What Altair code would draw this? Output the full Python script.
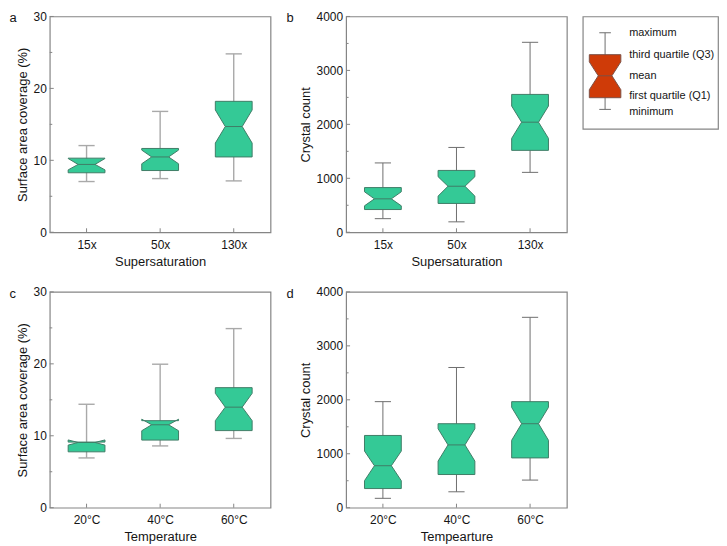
import json
import altair as alt
import pandas as pd

# ---------------- data ----------------
ss_cats = ["15x", "50x", "130x"]
temp_cats = ["20°C", "40°C", "60°C"]

# panel a: surface area coverage (%) vs supersaturation
a_min = [7.05, 7.46, 7.14]
a_q1 = [8.27, 8.58, 10.47]
a_mean = [9.43, 10.47, 14.7]
a_q3 = [10.3, 11.65, 18.2]
a_max = [12.05, 16.8, 24.8]
a_nlo = [8.67, 9.52, 12.4]
a_nhi = [10.25, 11.42, 17.0]

# panel b: crystal count vs supersaturation
b_min = [252, 193, 1110]
b_q1 = [421, 534, 1518]
b_mean = [619, 853, 2040]
b_q3 = [828, 1146, 2555]
b_max = [1285, 1572, 3521]
b_nlo = [490, 670, 1740]
b_nhi = [750, 1030, 2340]

# panel c: surface area coverage (%) vs temperature
c_min = [6.92, 8.59, 9.63]
c_q1 = [7.77, 9.4, 10.72]
c_mean = [9.07, 11.53, 13.98]
c_q3 = [9.12, 12.1, 16.69]
c_max = [14.38, 19.95, 24.9]
c_nlo = [8.7, 10.7, 12.1]
c_nhi = [9.42, 12.3, 15.9]

# panel d: crystal count vs temperature
d_min = [174, 295, 512]
d_q1 = [355, 615, 923]
d_mean = [778, 1164, 1557]
d_q3 = [1339, 1557, 1966]
d_max = [1966, 2599, 3529]
d_nlo = [500, 864, 1250]
d_nhi = [1050, 1464, 1860]

pct_ticks = [0, 10, 20, 30]
pct_minor = [5, 15, 25]
cnt_ticks = [0, 1000, 2000, 3000, 4000]
cnt_minor = [500, 1500, 2500, 3500]

legend_labels = ["maximum", "third quartile (Q3)", "mean", "first quartile (Q1)", "minimum"]
# schematic legend box (legend units, 0-10 scale)
legend_stats = dict(mn=1.73, q1=2.77, nlo=3.48, med=4.72, nhi=5.96, q3=6.6, mx=8.55)
legend_label_y = [8.55, 6.6, 4.72, 2.95, 1.53]

# ---------------- style ----------------
FONT = "Liberation Sans"
GREEN = "#34c996"
EDGE = "#3f7d67"
RED = "#cf3b08"
RED_EDGE = "#7d5045"
FRAME = "#858585"
TEXT = "#151515"
W, H = 222, 217
HALF = 0.25
INDENT = 0.135
CAP = 0.11


def polygon(c, half, indent, q1, nlo, med, nhi, q3, g):
    l, r = c - half, c + half
    pts = [(l, q1), (l, nlo), (l + indent, med), (l, nhi), (l, q3),
           (r, q3), (r, nhi), (r - indent, med), (r, nlo), (r, q1), (l, q1)]
    return [{"g": g, "k": k, "x": x, "y": y} for k, (x, y) in enumerate(pts)]


def panel(cats, mn, q1, med, q3, mx, nlo, nhi, ymax, major, minor,
          ytitle, xtitle, letter, letter_dx, wcol, wwidth):
    rows, poly = [], []
    for i in range(len(cats)):
        c = i + 1
        rows.append({"pos": c, "mn": mn[i], "mx": mx[i], "med": med[i],
                     "capl": c - CAP, "capr": c + CAP,
                     "medl": c - HALF + INDENT, "medr": c + HALF - INDENT})
        poly += polygon(c, HALF, INDENT, q1[i], nlo[i], med[i], nhi[i], q3[i], i)
    summ = pd.DataFrame(rows)
    polydf = pd.DataFrame(poly)

    xscale = alt.Scale(domain=[0.5, len(cats) + 0.5], nice=False, zero=False)
    yscale = alt.Scale(domain=[0, ymax], nice=False)
    xaxis = alt.Axis(values=list(range(1, len(cats) + 1)),
                     labelExpr=json.dumps(cats, ensure_ascii=False) + "[datum.value - 1]",
                     title=xtitle, grid=False, domain=False, ticks=False,
                     labelPadding=7, titlePadding=5)
    yaxis = alt.Axis(values=major, format="d", title=ytitle, grid=False, domain=False,
                     ticks=False, labelPadding=3.5, titlePadding=4)

    whisk = alt.Chart(summ).mark_rule(color=wcol, strokeWidth=wwidth).encode(
        x=alt.X("pos:Q", scale=xscale, axis=xaxis),
        y=alt.Y("mn:Q", scale=yscale, axis=yaxis),
        y2="mx:Q")
    cap_lo = alt.Chart(summ).mark_rule(color=wcol, strokeWidth=wwidth).encode(
        x="capl:Q", x2="capr:Q", y="mn:Q")
    cap_hi = alt.Chart(summ).mark_rule(color=wcol, strokeWidth=wwidth).encode(
        x="capl:Q", x2="capr:Q", y="mx:Q")
    boxes = alt.Chart(polydf).mark_line(fill=GREEN, stroke=EDGE, strokeWidth=1,
                                        strokeJoin="miter").encode(
        x="x:Q", y="y:Q", order="k:Q", detail="g:N")
    medline = alt.Chart(summ).mark_rule(color=EDGE, strokeWidth=1).encode(
        x="medl:Q", x2="medr:Q", y="med:Q")
    ymaj = alt.Chart(pd.DataFrame({"v": major})).mark_rule(color=FRAME).encode(
        y="v:Q", x=alt.value(0), x2=alt.value(4))
    ymin = alt.Chart(pd.DataFrame({"v": minor})).mark_rule(color=FRAME).encode(
        y="v:Q", x=alt.value(0), x2=alt.value(2.5))
    xt = alt.Chart(summ).mark_rule(color=FRAME).encode(
        x="pos:Q", y=alt.value(H), y2=alt.value(H - 4))
    lab = alt.Chart(pd.DataFrame({"t": [letter]})).mark_text(
        align="left", baseline="alphabetic", fontSize=13, font=FONT, color=TEXT
    ).encode(text="t:N", x=alt.value(letter_dx), y=alt.value(5.7))
    return alt.layer(whisk, cap_lo, cap_hi, boxes, medline, ymaj, ymin, xt, lab).properties(
        width=W, height=H)


pa = panel(ss_cats, a_min, a_q1, a_mean, a_q3, a_max, a_nlo, a_nhi, 30, pct_ticks, pct_minor,
           "Surface area coverage (%)", "Supersaturation", "a", -40.5, "#a9a9a9", 1.4)
pb = panel(ss_cats, b_min, b_q1, b_mean, b_q3, b_max, b_nlo, b_nhi, 4000, cnt_ticks, cnt_minor,
           "Crystal count", "Supersaturation", "b", -60, "#6e6e6e", 1)
pc = panel(temp_cats, c_min, c_q1, c_mean, c_q3, c_max, c_nlo, c_nhi, 30, pct_ticks, pct_minor,
           "Surface area coverage (%)", "Temperature", "c", -40.5, "#a9a9a9", 1.4)
pd_ = panel(temp_cats, d_min, d_q1, d_mean, d_q3, d_max, d_nlo, d_nhi, 4000, cnt_ticks, cnt_minor,
            "Crystal count", "Tempearture", "d", -60, "#6e6e6e", 1)

# ---------------- legend panel ----------------
LW, LH = 136, 113
LC, LHALF, LIND, LCAP, LTX = 1.65, 1.165, 0.66, 0.43, 3.43
s = legend_stats
lpoly = pd.DataFrame(polygon(LC, LHALF, LIND, s["q1"], s["nlo"], s["med"], s["nhi"], s["q3"], 0))
lsum = pd.DataFrame([{"c": LC, "mn": s["mn"], "mx": s["mx"], "med": s["med"],
                      "capl": LC - LCAP, "capr": LC + LCAP,
                      "medl": LC - LHALF + LIND, "medr": LC + LHALF - LIND}])
ltext = pd.DataFrame({"label": legend_labels, "y": legend_label_y, "x": [LTX] * len(legend_labels)})
lx = alt.Scale(domain=[0, 10], nice=False)
ly = alt.Scale(domain=[0, 10], nice=False)
lw = alt.Chart(lsum).mark_rule(color="#6e6e6e").encode(
    x=alt.X("c:Q", scale=lx, axis=None), y=alt.Y("mn:Q", scale=ly, axis=None), y2="mx:Q")
lcap1 = alt.Chart(lsum).mark_rule(color="#6e6e6e").encode(x="capl:Q", x2="capr:Q", y="mn:Q")
lcap2 = alt.Chart(lsum).mark_rule(color="#6e6e6e").encode(x="capl:Q", x2="capr:Q", y="mx:Q")
lbox = alt.Chart(lpoly).mark_line(fill=RED, stroke=RED_EDGE, strokeWidth=1).encode(
    x="x:Q", y="y:Q", order="k:Q", detail="g:N")
lmed = alt.Chart(lsum).mark_rule(color=RED_EDGE).encode(x="medl:Q", x2="medr:Q", y="med:Q")
ltxt = alt.Chart(ltext).mark_text(align="left", baseline="middle", fontSize=11,
                                  font=FONT, color=TEXT).encode(
    x="x:Q", y="y:Q", text="label:N")
legend = alt.layer(lw, lcap1, lcap2, lbox, lmed, ltxt).properties(width=LW, height=LH)

chart = alt.concat(pa, pb, legend, pc, pd_, columns=3, align="each",
                   spacing={"row": 16, "column": 14}).properties(
    padding={"left": 0, "top": 0, "right": 0, "bottom": 0},
    background="white"
).configure_view(stroke=FRAME, strokeWidth=1.2).configure_axis(
    labelFont=FONT, labelFontSize=12, labelColor=TEXT,
    titleFont=FONT, titleFontSize=13, titleFontWeight="normal", titleColor=TEXT
)

chart.save("out.html", embed_options={"renderer": "svg", "actions": False})
